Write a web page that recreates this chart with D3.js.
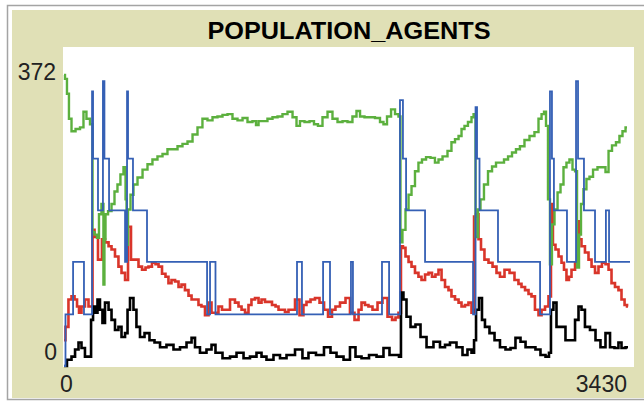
<!DOCTYPE html>
<html><head><meta charset="utf-8">
<script src="https://cdn.jsdelivr.net/npm/d3@7"></script>
<style>body{margin:0;background:#fff} svg{display:block}</style>
</head><body><svg id="c" width="644" height="402"></svg>
<script>
const title = "POPULATION_AGENTS";
const xTicks = [0, 3430];
const yTicks = [0, 372];

// [tick, value]
const green = [[0,372],[12,367],[24,348],[36,316],[55,300],[85,303],[109,305],[127,325],[145,316],[170,309],[176,171],[194,168],[206,164],[218,194],[236,207],[242,104],[248,162],[255,194],[279,198],[297,207],[315,223],[333,232],[351,245],[370,254],[376,213],[382,155],[394,200],[412,219],[430,232],[461,241],[491,251],[521,258],[551,264],[582,268],[612,271],[642,277],[673,277],[703,281],[733,284],[764,287],[794,296],[824,305],[854,316],[885,314],[915,318],[945,319],[976,321],[1006,322],[1036,316],[1067,314],[1097,317],[1127,312],[1157,313],[1170,308],[1188,313],[1218,313],[1248,316],[1279,318],[1309,319],[1339,322],[1370,325],[1400,318],[1418,307],[1442,313],[1473,312],[1503,313],[1527,309],[1551,307],[1582,318],[1612,325],[1642,316],[1673,312],[1703,313],[1733,312],[1763,319],[1782,326],[1806,319],[1836,318],[1866,318],[1903,317],[1927,312],[1945,309],[1970,319],[1994,328],[2018,322],[2036,319],[2042,158],[2060,174],[2079,200],[2097,219],[2115,230],[2139,249],[2157,260],[2182,264],[2206,267],[2236,266],[2260,260],[2279,264],[2309,268],[2339,275],[2357,286],[2382,290],[2400,294],[2418,303],[2436,307],[2460,312],[2479,318],[2485,322],[2503,165],[2515,200],[2533,213],[2557,232],[2582,249],[2606,255],[2630,260],[2654,260],[2679,264],[2703,268],[2727,273],[2751,277],[2775,281],[2806,289],[2836,294],[2866,299],[2885,316],[2903,322],[2915,325],[2927,307],[2939,213],[2951,130],[2963,181],[2982,200],[3000,222],[3018,232],[3036,254],[3054,260],[3072,264],[3091,251],[3103,249],[3115,126],[3127,168],[3139,207],[3157,226],[3175,239],[3194,242],[3218,251],[3248,254],[3272,254],[3291,248],[3309,275],[3333,282],[3357,286],[3375,294],[3394,300],[3412,305]];

const red = [[0,33],[18,50],[36,85],[55,89],[73,85],[85,76],[97,68],[115,76],[139,85],[158,76],[170,76],[176,174],[194,165],[218,136],[224,136],[236,162],[261,158],[279,153],[297,149],[321,140],[339,127],[358,119],[382,110],[394,178],[418,136],[442,136],[461,127],[485,123],[503,126],[521,127],[545,132],[564,130],[582,127],[606,118],[624,114],[642,106],[661,110],[685,108],[703,101],[721,104],[745,97],[764,90],[782,85],[806,85],[824,78],[842,76],[867,65],[885,81],[903,68],[927,68],[945,76],[970,72],[988,72],[1024,85],[1048,81],[1067,76],[1085,72],[1109,68],[1127,78],[1145,85],[1170,87],[1188,81],[1206,85],[1230,82],[1248,82],[1273,78],[1291,76],[1309,72],[1327,72],[1351,69],[1370,72],[1388,72],[1412,85],[1442,65],[1460,78],[1479,82],[1509,85],[1533,87],[1564,81],[1588,72],[1612,63],[1636,72],[1654,76],[1691,81],[1721,87],[1745,68],[1776,59],[1794,72],[1812,81],[1836,78],[1854,76],[1885,72],[1915,81],[1945,87],[1976,63],[2000,59],[2018,62],[2036,68],[2048,153],[2060,151],[2079,140],[2097,133],[2115,127],[2139,119],[2157,114],[2176,110],[2200,117],[2218,119],[2242,114],[2260,117],[2279,123],[2297,110],[2321,101],[2339,97],[2357,89],[2382,85],[2400,81],[2418,76],[2442,78],[2460,81],[2479,68],[2491,191],[2503,194],[2521,162],[2533,149],[2563,136],[2582,132],[2612,127],[2630,119],[2654,114],[2685,123],[2715,119],[2745,110],[2763,105],[2782,101],[2806,97],[2824,92],[2842,89],[2866,72],[2885,65],[2903,72],[2927,76],[2945,89],[2957,207],[2969,155],[2988,149],[3006,140],[3024,132],[3036,123],[3054,110],[3066,114],[3085,123],[3109,132],[3115,185],[3127,162],[3145,153],[3169,145],[3188,136],[3206,127],[3230,119],[3248,127],[3272,132],[3291,130],[3309,123],[3327,106],[3351,101],[3369,97],[3388,85],[3406,78],[3418,76]];

const black = [[0,0],[36,8],[55,12],[79,21],[97,30],[115,23],[139,12],[158,12],[170,59],[182,76],[200,68],[206,85],[230,72],[236,55],[261,81],[279,72],[297,59],[321,46],[339,50],[358,37],[382,42],[388,72],[412,87],[430,72],[448,50],[473,37],[503,42],[533,33],[564,30],[600,24],[642,27],[685,21],[721,24],[764,30],[782,36],[806,24],[842,17],[885,21],[903,27],[933,17],[988,10],[1024,12],[1067,17],[1109,10],[1145,12],[1188,17],[1206,12],[1248,8],[1291,14],[1327,10],[1370,14],[1430,21],[1460,10],[1503,17],[1551,14],[1600,24],[1630,17],[1673,12],[1715,8],[1751,24],[1782,12],[1824,10],[1873,14],[1915,12],[1957,23],[1988,14],[2024,14],[2036,12],[2048,94],[2066,85],[2085,63],[2115,50],[2145,53],[2176,37],[2218,24],[2260,31],[2297,24],[2321,27],[2357,30],[2400,24],[2430,14],[2460,21],[2479,17],[2491,33],[2503,72],[2527,87],[2539,59],[2563,50],[2594,42],[2624,33],[2660,24],[2691,21],[2721,23],[2751,36],[2782,31],[2812,24],[2842,24],[2872,21],[2903,14],[2933,12],[2945,17],[2957,72],[2975,81],[2994,50],[3024,50],[3054,33],[3085,33],[3109,59],[3127,76],[3145,72],[3169,50],[3206,46],[3236,33],[3266,24],[3297,42],[3321,24],[3351,23],[3369,30],[3388,23],[3418,24]];

// step series: [tick, new level]
const blue = [[0,0],[9,66],[55,133],[121,66],[170,351],[176,265],[206,199],[236,364],[245,265],[273,199],[370,133],[376,199],[379,133],[382,351],[388,265],[418,199],[503,133],[867,66],[885,133],[918,66],[1412,133],[1442,66],[1570,133],[1612,66],[1739,133],[1751,66],[1927,133],[1970,66],[2036,340],[2054,265],[2073,199],[2188,133],[2479,66],[2494,331],[2503,265],[2518,199],[2630,133],[2885,66],[2945,351],[2957,265],[2969,199],[3048,133],[3103,364],[3115,265],[3151,199],[3218,133],[3284,199],[3303,133],[3430,133]];

const svg = d3.select("#c");
const khaki = "#e0e0b6";

svg.append("rect").attr("x",0).attr("y",0).attr("width",644).attr("height",402).attr("fill","#fff");
svg.append("rect").attr("x",7.5).attr("y",5.5).attr("width",645).attr("height",394)
  .attr("fill","#fff").attr("stroke","#a4a4a4").attr("stroke-width",1.5);
svg.append("rect").attr("x",12).attr("y",10).attr("width",640).attr("height",388).attr("fill",khaki);
svg.append("rect").attr("x",63).attr("y",47).attr("width",571).attr("height",320).attr("fill","#fff");

svg.append("text").attr("x",349).attr("y",39).attr("text-anchor","middle")
  .attr("font-family","'Liberation Sans', Arial, sans-serif").attr("font-weight","bold")
  .attr("font-size",24).attr("textLength",283).attr("lengthAdjust","spacingAndGlyphs")
  .attr("fill","#000").text(title);

const x = d3.scaleLinear().domain([0,3430]).range([64,630]);
const y = d3.scaleLinear().domain([0,372]).range([366,75]);

const lab = {family:"'Liberation Sans', Arial, sans-serif", size:23, fill:"#222"};
svg.append("text").attr("x",56).attr("y",80).attr("text-anchor","end")
  .attr("font-family",lab.family).attr("font-size",lab.size).attr("fill",lab.fill).text(yTicks[1]);
svg.append("text").attr("x",57).attr("y",360).attr("text-anchor","end")
  .attr("font-family",lab.family).attr("font-size",lab.size).attr("fill",lab.fill).text(yTicks[0]);
svg.append("text").attr("x",60).attr("y",392).attr("text-anchor","start")
  .attr("font-family",lab.family).attr("font-size",lab.size).attr("fill",lab.fill).text(xTicks[0]);
svg.append("text").attr("x",627).attr("y",392).attr("text-anchor","end")
  .attr("font-family",lab.family).attr("font-size",lab.size).attr("fill",lab.fill).text(xTicks[1]);

const line = d3.line().x(d=>x(d[0])).y(d=>y(d[1])).curve(d3.curveStep);
const step = d3.line().x(d=>x(d[0])).y(d=>y(d[1])).curve(d3.curveStepAfter);

const g = svg.append("g").attr("fill","none").attr("stroke-linejoin","miter");
g.append("path").datum(red).attr("d",line).attr("stroke","#d9352a").attr("stroke-width",2.6);
g.append("path").datum(green).attr("d",line).attr("stroke","#5cb03e").attr("stroke-width",2.4);
g.append("path").datum(black).attr("d",line).attr("stroke","#000").attr("stroke-width",2.6);
g.append("path").datum(blue).attr("d",step).attr("stroke","#3560b5").attr("stroke-width",1.8);
</script></body></html>
